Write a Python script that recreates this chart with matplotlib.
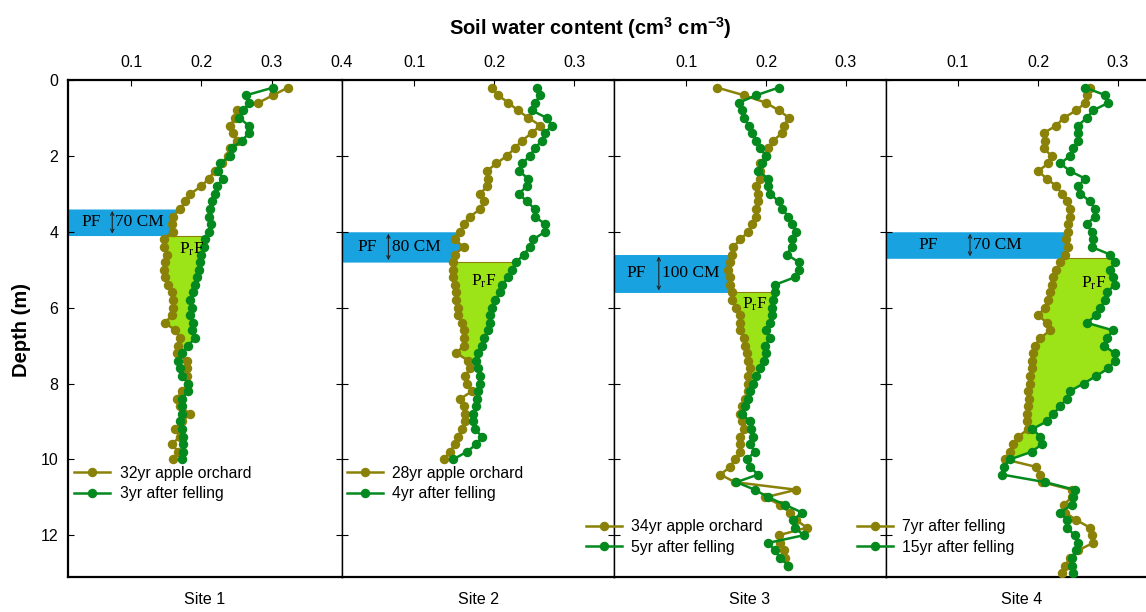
import numpy as np
import matplotlib
matplotlib.use("Agg")
import matplotlib.pyplot as plt

plt.rcParams["font.family"] = ["Liberation Sans", "DejaVu Sans"]

# sampling depths (m)
depth_a = [0.2, 0.4, 0.6, 0.8, 1.0, 1.2, 1.4, 1.6, 1.8, 2.0, 2.2, 2.4, 2.6, 2.8, 3.0, 3.2, 3.4,
           3.6, 3.8, 4.0, 4.2, 4.4, 4.6, 4.8, 5.0, 5.2, 5.4, 5.6, 5.8, 6.0, 6.2, 6.4, 6.6, 6.8,
           7.0, 7.2, 7.4, 7.6, 7.8, 8.0, 8.2, 8.4, 8.6, 8.8, 9.0, 9.2, 9.4, 9.6, 9.8, 10.0]
depth_b = depth_a + [10.2, 10.4, 10.6, 10.8, 11.0, 11.2, 11.4, 11.6, 11.8, 12.0, 12.2, 12.4,
                     12.6, 12.8]
depth_c = depth_b + [13.0]

# site 1
s1_orchard = [0.323, 0.302, 0.281, 0.251, 0.248, 0.241, 0.245, 0.251, 0.241, 0.238,
              0.229, 0.219, 0.210, 0.200, 0.184, 0.177, 0.170, 0.159, 0.158, 0.159,
              0.146, 0.147, 0.151, 0.148, 0.146, 0.148, 0.153, 0.158, 0.160, 0.160,
              0.158, 0.148, 0.163, 0.169, 0.167, 0.165, 0.179, 0.179, 0.179, 0.181,
              0.172, 0.165, 0.169, 0.184, 0.172, 0.163, 0.169, 0.158, 0.167, 0.160]
s1_felled = [0.302, 0.264, 0.268, 0.259, 0.254, 0.267, 0.268, 0.257, 0.243, 0.241,
             0.227, 0.224, 0.231, 0.222, 0.219, 0.215, 0.212, 0.211, 0.213, 0.210,
             0.205, 0.203, 0.200, 0.198, 0.196, 0.193, 0.191, 0.188, 0.184, 0.186,
             0.184, 0.188, 0.186, 0.191, 0.181, 0.172, 0.167, 0.169, 0.172, 0.181,
             0.181, 0.172, 0.172, 0.172, 0.169, 0.172, 0.174, 0.174, 0.173, 0.172]
# site 2
s2_orchard = [0.197, 0.205, 0.218, 0.230, 0.243, 0.258, 0.247, 0.235, 0.226, 0.216,
              0.203, 0.191, 0.193, 0.191, 0.183, 0.187, 0.183, 0.170, 0.162, 0.158,
              0.151, 0.162, 0.151, 0.149, 0.149, 0.149, 0.151, 0.153, 0.153, 0.155,
              0.155, 0.160, 0.162, 0.162, 0.162, 0.153, 0.168, 0.170, 0.164, 0.166,
              0.173, 0.158, 0.162, 0.164, 0.164, 0.160, 0.155, 0.151, 0.145, 0.137]
s2_felled = [0.254, 0.258, 0.251, 0.247, 0.266, 0.272, 0.264, 0.260, 0.251, 0.245,
             0.235, 0.231, 0.243, 0.241, 0.231, 0.241, 0.251, 0.251, 0.264, 0.264,
             0.249, 0.245, 0.237, 0.228, 0.222, 0.218, 0.210, 0.208, 0.201, 0.197,
             0.195, 0.195, 0.193, 0.187, 0.185, 0.180, 0.178, 0.180, 0.182, 0.182,
             0.180, 0.179, 0.178, 0.174, 0.174, 0.176, 0.185, 0.178, 0.166, 0.149]
# site 3
s3_orchard = [0.139, 0.172, 0.200, 0.216, 0.229, 0.222, 0.220, 0.209, 0.203, 0.200,
              0.193, 0.193, 0.192, 0.188, 0.190, 0.190, 0.188, 0.188, 0.182, 0.178,
              0.168, 0.159, 0.157, 0.155, 0.153, 0.155, 0.155, 0.157, 0.158, 0.163,
              0.167, 0.168, 0.168, 0.172, 0.174, 0.176, 0.178, 0.180, 0.177, 0.178,
              0.178, 0.174, 0.170, 0.168, 0.170, 0.172, 0.168, 0.168, 0.168, 0.161,
              0.155, 0.143, 0.161, 0.238, 0.199, 0.218, 0.230, 0.238, 0.251, 0.216,
              0.218, 0.222, 0.224, 0.228]
s3_felled = [0.216, 0.188, 0.166, 0.170, 0.172, 0.179, 0.182, 0.188, 0.193, 0.200,
             0.195, 0.190, 0.203, 0.203, 0.205, 0.216, 0.220, 0.228, 0.233, 0.238,
             0.232, 0.232, 0.226, 0.241, 0.241, 0.236, 0.211, 0.211, 0.209, 0.208,
             0.207, 0.205, 0.200, 0.205, 0.199, 0.200, 0.197, 0.193, 0.188, 0.184,
             0.180, 0.177, 0.174, 0.170, 0.180, 0.181, 0.184, 0.180, 0.186, 0.176,
             0.180, 0.190, 0.163, 0.186, 0.203, 0.224, 0.245, 0.234, 0.236, 0.247,
             0.203, 0.211, 0.218, 0.228]
# site 4
s4_early = [0.265, 0.261, 0.259, 0.248, 0.232, 0.223, 0.207, 0.209, 0.207, 0.217,
            0.213, 0.200, 0.211, 0.223, 0.230, 0.236, 0.240, 0.240, 0.238, 0.237,
            0.235, 0.237, 0.234, 0.228, 0.223, 0.219, 0.217, 0.215, 0.213, 0.209,
            0.200, 0.211, 0.215, 0.203, 0.196, 0.194, 0.192, 0.192, 0.190, 0.190,
            0.188, 0.189, 0.187, 0.186, 0.186, 0.188, 0.175, 0.169, 0.165, 0.159,
            0.198, 0.203, 0.205, 0.242, 0.242, 0.232, 0.234, 0.248, 0.265, 0.267,
            0.269, 0.250, 0.240, 0.234, 0.230]
s4_late = [0.259, 0.284, 0.288, 0.269, 0.261, 0.250, 0.250, 0.250, 0.244, 0.240,
           0.228, 0.240, 0.259, 0.250, 0.253, 0.265, 0.271, 0.271, 0.261, 0.267,
           0.269, 0.267, 0.290, 0.296, 0.290, 0.294, 0.296, 0.286, 0.284, 0.278,
           0.273, 0.261, 0.294, 0.286, 0.282, 0.296, 0.296, 0.288, 0.273, 0.257,
           0.240, 0.236, 0.228, 0.219, 0.211, 0.193, 0.203, 0.205, 0.192, 0.165,
           0.157, 0.155, 0.209, 0.246, 0.244, 0.242, 0.228, 0.236, 0.236, 0.246,
           0.250, 0.248, 0.242, 0.242, 0.244]

site_names = ["Site 1", "Site 2", "Site 3", "Site 4"]
labels_a = ["32yr apple orchard", "28yr apple orchard", "34yr apple orchard", "7yr after felling"]
labels_b = ["3yr after felling", "4yr after felling", "5yr after felling", "15yr after felling"]
pf_top = [3.4, 4.0, 4.6, 4.0]
pf_bottom = [4.1, 4.8, 5.6, 4.7]
pf_text = ["70 CM", "80 CM", "100 CM", "70 CM"]
prf_end = [7.2, 7.4, 8.2, 10.2]

depths = [depth_a, depth_a, depth_b, depth_c]
series_a = [s1_orchard, s2_orchard, s3_orchard, s4_early]
series_b = [s1_felled, s2_felled, s3_felled, s4_late]

c_olive = "#8a8208"
c_green = "#04891e"
c_pf = "#19a2e0"
c_prf = "#9ce318"

fig = plt.figure(figsize=(11.46, 6.12), dpi=100)
W, H = 1146, 612
lefts = [68, 342, 614, 886]
widths = [274, 272, 272, 272]
xlims = [(0.01, 0.4), (0.01, 0.35), (0.01, 0.35), (0.01, 0.35)]
xticks = [[0.1, 0.2, 0.3, 0.4], [0.1, 0.2, 0.3], [0.1, 0.2, 0.3], [0.1, 0.2, 0.3]]
pf_x = [(0.043, 0.073), (0.042, 0.068), (0.038, 0.066), (0.063, 0.115)]
prf_pos = [(0.186, 4.45), (0.187, 5.3), (0.186, 5.9), (0.269, 5.35)]
leg_pos = [(0.022, 0.224), (0.018, 0.224), (-0.103, 0.116), (-0.107, 0.116)]

for i in range(4):
    ax = fig.add_axes([lefts[i] / W, 1 - 577 / H, widths[i] / W, 497 / H])
    d = np.array(depths[i])
    a = np.array(series_a[i])
    b = np.array(series_b[i])
    ax.set_xlim(*xlims[i])
    ax.set_ylim(13.1, 0)

    # PF box up to the orchard curve
    g = np.linspace(pf_top[i], pf_bottom[i], 60)
    ax.fill_betweenx(g, xlims[i][0], np.interp(g, d, a), color=c_pf, lw=0, zorder=1)
    px, ax_arrow = pf_x[i]
    ax.text(px, (pf_top[i] + pf_bottom[i]) / 2, "PF", family="Liberation Serif",
            fontsize=12.5, ha="center", va="center", zorder=5)
    ax.annotate("", xy=(ax_arrow, pf_top[i] + 0.05), xytext=(ax_arrow, pf_bottom[i] - 0.05),
                arrowprops=dict(arrowstyle="<->", lw=0.8, color="#222222",
                                shrinkA=0, shrinkB=0, mutation_scale=6), zorder=5)
    ax.text(ax_arrow + 0.004, (pf_top[i] + pf_bottom[i]) / 2, pf_text[i],
            family="Liberation Serif", fontsize=12.5, ha="left", va="center", zorder=5)

    # PrF region between the two curves
    g2 = np.linspace(pf_bottom[i], prf_end[i], 300)
    ia = np.interp(g2, d, a)
    ib = np.interp(g2, d, b)
    ax.fill_betweenx(g2, ia, ib, where=ib >= ia, interpolate=True, color=c_prf, lw=0, zorder=1)
    ax.plot([ia[0], ib[0]], [pf_bottom[i]] * 2, color=c_olive, lw=0.8, zorder=2)
    ax.text(prf_pos[i][0], prf_pos[i][1], r"P$\mathregular{_r}$F", family="Liberation Serif",
            fontsize=12.5, ha="center", va="center", zorder=5)

    ax.plot(a, d, color=c_olive, lw=1.8, marker="o", ms=5.8, label=labels_a[i], zorder=3)
    ax.plot(b, d, color=c_green, lw=1.8, marker="o", ms=5.8, label=labels_b[i], zorder=4)

    ax.set_xticks(xticks[i])
    ax.set_xticklabels([f"{t:.1f}" for t in xticks[i]])
    ax.set_yticks([0, 2, 4, 6, 8, 10, 12])
    ax.tick_params(axis="x", direction="in", top=True, bottom=False, labeltop=True,
                   labelbottom=False, labelsize=11.5, length=4, pad=7)
    ax.tick_params(axis="y", direction="in", left=True, right=True, labelsize=11.5,
                   length=4, pad=7, labelleft=(i == 0))
    for s in ax.spines.values():
        s.set_linewidth(1.0)
    ax.spines["top"].set_linewidth(1.6)
    ax.spines["bottom"].set_linewidth(1.6)
    if i == 0:
        ax.spines["left"].set_linewidth(1.6)

    ax.legend(loc="upper left", bbox_to_anchor=leg_pos[i], frameon=False, fontsize=11.3,
              handlelength=2.3, handletextpad=0.6, labelspacing=0.35, borderpad=0,
              borderaxespad=0)
    ax.text(0.5, -0.045, site_names[i], transform=ax.transAxes, ha="center", va="center",
            fontsize=11.5)

fig.text(0.019, 0.46, "Depth (m)", rotation=90, ha="center", va="center",
         fontsize=14.5, fontweight="bold")
fig.text(0.515, 0.954, r"Soil water content (cm$\mathregular{^3}$ cm$\mathregular{^{-3}}$)",
         ha="center", va="center", fontsize=14.5, fontweight="bold")

fig.savefig("out.png", dpi=100)
